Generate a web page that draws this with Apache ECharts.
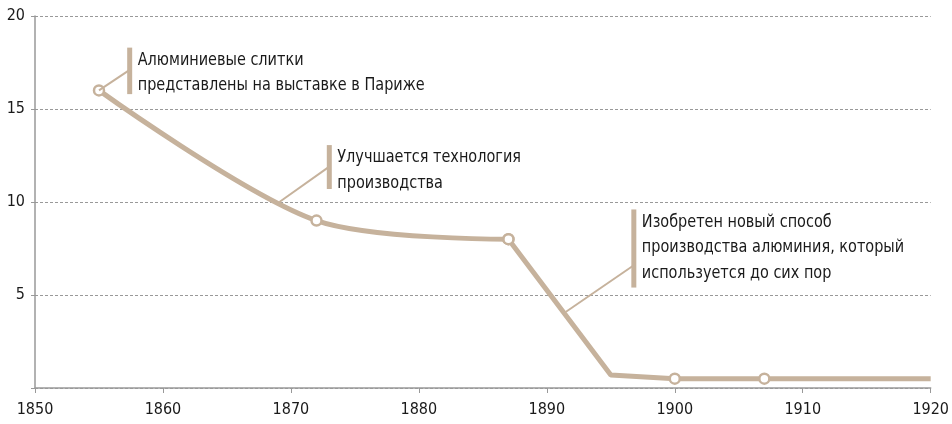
<!DOCTYPE html>
<html>
<head>
<meta charset="utf-8">
<script src="https://cdn.jsdelivr.net/npm/echarts@6/dist/echarts.min.js"></script>
<style>
  html, body { margin: 0; padding: 0; background: #fff; }
  #chart { width: 952px; height: 424px; }
</style>
</head>
<body>
<div id="chart"></div>
<script>
// years and values
const years = [1855, 1872, 1887, 1895, 1900, 1907, 1920];
const values = [16, 9, 8, 0.7, 0.5, 0.5, 0.5];
const marked = [true, true, true, false, true, true, false];
const smoothEnd = 2; // curve is smooth up to 1887, straight after

const xTicks = [1850, 1860, 1870, 1880, 1890, 1900, 1910, 1920];
const yTicks = [5, 10, 15, 20];

const notes = [
    { at: [1855, 16], end: [1857.4, 17.1], top: 18.3, bottom: 15.8,
      lines: ['Алюминиевые слитки', 'представлены на выставке в Париже'] },
    { at: [1869.1, 10], end: [1873, 11.9], top: 13.06, bottom: 10.7,
      lines: ['Улучшается технология', 'производства'] },
    { at: [1891.5, 4.1], end: [1896.8, 6.6], top: 9.6, bottom: 5.4,
      lines: ['Изобретен новый способ', 'производства алюминия, который', 'используется до сих пор'] }
];

const tan = '#c6b29c';
const font = "'Liberation Sans Narrow', 'DejaVu Sans Condensed', sans-serif";

function pts(from, to) {
    let out = [];
    for (let i = from; i <= to; i++) {
        out.push({
            value: [years[i], values[i]],
            symbol: marked[i] ? 'circle' : 'none'
        });
    }
    return out;
}

const lineStyle = { color: tan, width: 5 };
const itemStyle = { color: '#fff', borderColor: tan, borderWidth: 2.5 };

const option = {
    animation: false,
    grid: { left: 35, right: 17, top: 16, bottom: 36 },
    xAxis: {
        type: 'value',
        min: 1850,
        max: 1920,
        interval: 10,
        axisLine: { show: true, lineStyle: { color: '#999', width: 1.5 } },
        axisTick: { show: true, length: 5, lineStyle: { color: '#999' } },
        axisLabel: {
            color: '#1a1a1a', fontSize: 16, fontFamily: font, margin: 14,
            formatter: v => xTicks.includes(v) ? String(v) : ''
        },
        splitLine: { show: false }
    },
    yAxis: {
        type: 'value',
        min: 0,
        max: 20,
        interval: 5,
        axisLine: { show: true, lineStyle: { color: '#999', width: 1.5 } },
        axisTick: { show: true, length: 4, lineStyle: { color: '#999' } },
        axisLabel: {
            color: '#1a1a1a', fontSize: 16, fontFamily: font, margin: 10,
            formatter: v => yTicks.includes(v) ? String(v) : ''
        },
        splitLine: { show: true, lineStyle: { color: '#999', type: [3, 2], width: 1 } }
    },
    series: [{
        type: 'line',
        smooth: 0.3,
        data: pts(0, smoothEnd),
        symbolSize: 10,
        lineStyle: lineStyle,
        itemStyle: itemStyle,
        z: 3
    }, {
        type: 'line',
        data: pts(smoothEnd, years.length - 1),
        symbolSize: 10,
        lineStyle: lineStyle,
        itemStyle: itemStyle,
        z: 3
    }]
};

const chart = echarts.init(document.getElementById('chart'));
chart.setOption(option);

// annotations: connector, vertical bar and text
const graphic = [];
notes.forEach(n => {
    const a = chart.convertToPixel({ gridIndex: 0 }, n.at);
    const e = chart.convertToPixel({ gridIndex: 0 }, n.end);
    const top = chart.convertToPixel({ gridIndex: 0 }, [n.end[0], n.top])[1];
    const bottom = chart.convertToPixel({ gridIndex: 0 }, [n.end[0], n.bottom])[1];
    graphic.push({
        type: 'line', z: 10,
        shape: { x1: a[0], y1: a[1], x2: e[0], y2: e[1] },
        style: { stroke: tan, lineWidth: 2 }
    });
    graphic.push({
        type: 'rect', z: 10,
        shape: { x: e[0] - 2.5, y: top, width: 5, height: bottom - top },
        style: { fill: tan }
    });
    graphic.push({
        type: 'text', z: 10,
        x: e[0] + 8, y: top,
        scaleX: 0.945,
        style: {
            text: n.lines.join('\n'),
            fill: '#1a1a1a',
            font: '17px ' + font,
            lineHeight: 25.5,
            verticalAlign: 'top'
        }
    });
});
chart.setOption({ graphic: graphic });
</script>
</body>
</html>
